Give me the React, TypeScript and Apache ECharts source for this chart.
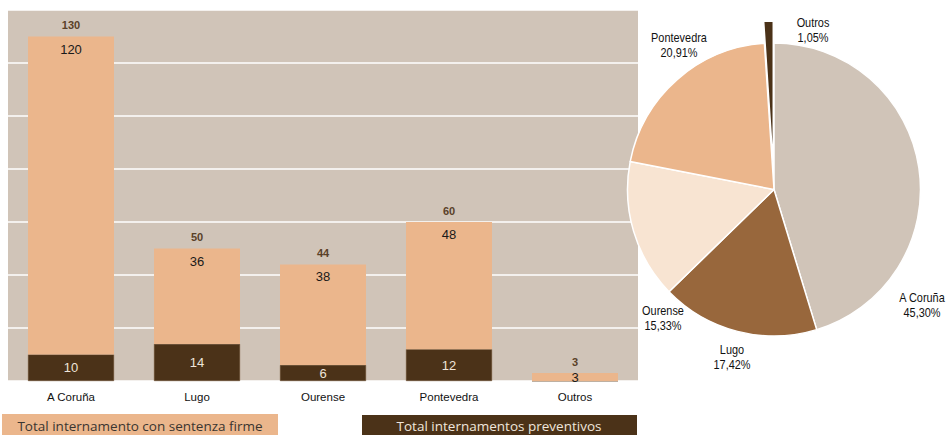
import React, { useEffect, useRef } from "react";
import * as echarts from "echarts";

const categories = ["A Coruña", "Lugo", "Ourense", "Pontevedra", "Outros"];
const preventivos = [10, 14, 6, 12, 0];
const sentenzaFirme = [120, 36, 38, 48, 3];
const totals = categories.map((_, i) => preventivos[i] + sentenzaFirme[i]);
const yMin = 0;
const yMax = 140;
const yInterval = 20;
const legendNames = ["Total internamento con sentenza firme", "Total internamentos preventivos"];
const pieColors = ["#d0c4b8", "#98673c", "#f8e4d2", "#ebb68c", "#4b3218"];
const explodedSlice = "Outros";

const BG = "#d0c4b8";
const LIGHT = "#ebb68c";
const DARK = "#4b3218";
const SANS = "'Liberation Sans', Arial, sans-serif";

// label anchor positions for the pie (layout only)
const pieLabelPos = [
  [922, 305],
  [732, 357.5],
  [663, 318.5],
  [679, 45.5],
  [813, 30],
];

export default function App() {
  const ref = useRef<HTMLDivElement>(null);
  useEffect(() => {
    const chart = echarts.init(ref.current!, null, { renderer: "svg" });
    const sum = totals.reduce((a, b) => a + b, 0);
    const pieLabels = categories.map((c, i) => ({
      type: "text",
      x: pieLabelPos[i][0],
      y: pieLabelPos[i][1],
      scaleX: 0.84,
      z: 10,
      style: {
        text: `${c}\n${((totals[i] / sum) * 100).toFixed(2).replace(".", ",")}%`,
        fill: "#111",
        font: `13px ${SANS}`,
        lineHeight: 15,
        align: "center",
        verticalAlign: "middle",
      },
    }));
    const option: any = {
      animation: false,
      grid: {
        left: 8,
        right: 308,
        top: 10,
        bottom: 54,
        show: true,
        backgroundColor: BG,
        borderWidth: 0,
      },
      xAxis: {
        type: "category",
        data: categories,
        axisLine: { show: false },
        axisTick: { show: false },
        axisLabel: { margin: 10, color: "#111", fontSize: 11.5, fontFamily: SANS },
      },
      yAxis: {
        type: "value",
        min: yMin,
        max: yMax,
        interval: yInterval,
        axisLine: { show: false },
        axisTick: { show: false },
        axisLabel: { show: false },
        splitLine: { lineStyle: { color: "#ffffff", width: 1.5 } },
      },
      series: [
        {
          type: "bar",
          name: legendNames[1],
          stack: "t",
          barWidth: 86,
          barGap: "-100%",
          data: preventivos,
          itemStyle: { color: DARK, borderColor: "#6b4a2a", borderWidth: 0.5 },
          label: {
            show: true,
            position: "inside",
            color: "#efe5da",
            fontSize: 13,
            fontFamily: SANS,
            formatter: (p: any) => (p.value ? String(p.value) : ""),
          },
        },
        {
          type: "bar",
          name: legendNames[0],
          stack: "t",
          barWidth: 86,
          barGap: "-100%",
          data: sentenzaFirme.map((v) => ({
            value: v,
            label: v < 5 ? { position: "inside" } : undefined,
          })),
          itemStyle: { color: LIGHT },
          label: {
            show: true,
            position: "insideTop",
            distance: 6,
            color: "#1a1a1a",
            fontSize: 13,
            fontFamily: SANS,
          },
        },
        {
          type: "bar",
          name: "Total",
          barWidth: 86,
          barGap: "-100%",
          data: totals,
          itemStyle: { color: "rgba(0,0,0,0)" },
          z: 1,
          label: {
            show: true,
            position: "top",
            distance: 6,
            color: "#5a4128",
            fontSize: 11,
            fontWeight: "bold",
            fontFamily: SANS,
          },
        },
        {
          type: "pie",
          center: [774, 189.5],
          radius: 146.5,
          startAngle: 90,
          clockwise: true,
          selectedMode: "single",
          selectedOffset: 22,
          data: categories.map((c, i) => ({
            name: c,
            value: totals[i],
            selected: c === explodedSlice,
            itemStyle: { color: pieColors[i] },
          })),
          itemStyle: { borderColor: "#ffffff", borderWidth: 1.5 },
          emphasis: { disabled: true },
          select: { itemStyle: { borderColor: "#ffffff", borderWidth: 1.5 } },
          labelLine: { show: false },
          label: { show: false },
        },
      ],
      graphic: [
        {
          type: "rect",
          shape: { x: 2, y: 414, width: 276, height: 25 },
          style: { fill: LIGHT },
        },
        {
          type: "text",
          x: 140,
          y: 426,
          style: {
            text: legendNames[0],
            fill: "#3a3530",
            font: "13.5px 'Open Sans', sans-serif",
            align: "center",
            verticalAlign: "middle",
          },
        },
        {
          type: "rect",
          shape: { x: 362, y: 415, width: 275, height: 25 },
          style: { fill: DARK },
        },
        {
          type: "text",
          x: 499,
          y: 426,
          style: {
            text: legendNames[1],
            fill: "#f0e6dc",
            font: "13.5px 'Open Sans', sans-serif",
            align: "center",
            verticalAlign: "middle",
          },
        },
        ...pieLabels,
      ],
    };
    chart.setOption(option);
    return () => chart.dispose();
  }, []);
  return (
    <div
      ref={ref}
      style={{ position: "fixed", left: 0, top: 0, width: 946, height: 435, background: "#fff" }}
    />
  );
}
